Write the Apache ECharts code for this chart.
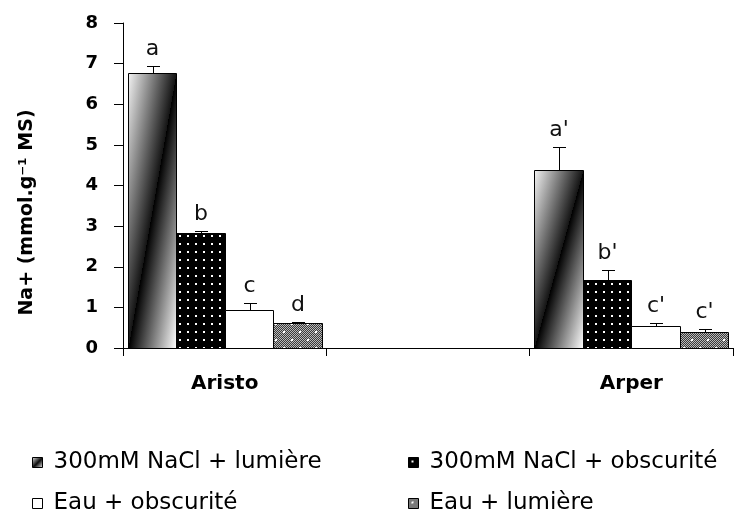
<!DOCTYPE html>
<html><head><meta charset="utf-8">
<script src="https://cdn.jsdelivr.net/npm/echarts@6/dist/echarts.min.js"></script>
<style>html,body{margin:0;padding:0;background:#fff}#c{width:738px;height:514px}</style>
</head><body><div id="c"></div>
<script>
// ---- data ----
const categories = ['Aristo', '', 'Arper'];
const seriesNames = ['300mM NaCl + lumière', '300mM NaCl + obscurité', 'Eau + obscurité', 'Eau + lumière'];
const naclLumiere      = [6.78, null, 4.38];
const naclLumiereErr   = [0.15, null, 0.56];
const naclObscurite    = [2.82, null, 1.67];
const naclObscuriteErr = [0.06, null, 0.25];
const eauObscurite     = [0.93, null, 0.55];
const eauObscuriteErr  = [0.17, null, 0.06];
const eauLumiere       = [0.62, null, 0.40];
const eauLumiereErr    = [0.03, null, 0.08];
const lettersNaclLumiere   = ['a', null, "a'"];
const lettersNaclObscurite = ['b', null, "b'"];
const lettersEauObscurite  = ['c', null, "c'"];
const lettersEauLumiere    = ['d', null, "c'"];
const yMin = 0, yMax = 8, yStep = 1;

const values = [naclLumiere, naclObscurite, eauObscurite, eauLumiere];
const errors = [naclLumiereErr, naclObscuriteErr, eauObscuriteErr, eauLumiereErr];
const letters = [lettersNaclLumiere, lettersNaclObscurite, lettersEauObscurite, lettersEauLumiere];

// ---- fills ----
const gradStops = [
  {offset: 0, color: '#f2f2f2'},
  {offset: 0.5, color: '#141414'},
  {offset: 0.5, color: '#000000'},
  {offset: 1, color: '#ffffff'}
];
function diagFill(x, y, w, h) {
  const L2 = w * w + h * h;
  const gx = 2 * w * h * h / L2, gy = 2 * w * w * h / L2;
  return new echarts.graphic.LinearGradient(x, y, x + gx, y + gy, gradStops, true);
}
function makeDots() {
  const c = document.createElement('canvas'); c.width = 8; c.height = 8;
  const g = c.getContext('2d');
  g.fillStyle = '#000'; g.fillRect(0, 0, 8, 8);
  g.fillStyle = '#fff'; g.fillRect(3, 3, 2, 2);
  return c;
}
function makeChecker() {
  const c = document.createElement('canvas'); c.width = 16; c.height = 16;
  const g = c.getContext('2d');
  for (let i = 0; i < 16; i++) for (let j = 0; j < 16; j++) {
    g.fillStyle = ((i + j) % 2) ? '#3a3a3a' : '#b8b8b8';
    g.fillRect(i, j, 1, 1);
  }
  g.fillStyle = '#fff';
  g.fillRect(3, 3, 2, 2); g.fillRect(11, 11, 2, 2);
  return c;
}
const dotsPattern = {image: makeDots(), repeat: 'repeat'};
const checkerPattern = {image: makeChecker(), repeat: 'repeat'};
const fills = [null, dotsPattern, '#ffffff', checkerPattern];
const legendFills = [
  new echarts.graphic.LinearGradient(0, 0, 1, 1, gradStops),
  dotsPattern, '#ffffff', checkerPattern
];

const CAT_GAP = 0.045;
function makeRender(s) {
  return function (params, api) {
    const ci = api.value(0), v = api.value(1), e = api.value(2);
    const base = api.coord([ci, 0]);
    const top = api.coord([ci, v]);
    const et = api.coord([ci, v + e]);
    const band = api.size([1, 0])[0];
    const gw = band * (1 - CAT_GAP);
    const bw = gw / 4;
    const x = Math.round(base[0] - gw / 2 + s * bw) + 0.5;
    const x2 = Math.round(base[0] - gw / 2 + (s + 1) * bw) + 0.5;
    const yT = Math.round(top[1]) + 0.5;
    const yB = Math.round(base[1]) + 0.5;
    const yE = Math.round(et[1]) + 0.5;
    const cx = Math.round((x + x2) / 2) + 0.5;
    const fill = s === 0 ? diagFill(x, yT, x2 - x, yB - yT) : fills[s];
    const children = [
      {type: 'rect', shape: {x: x, y: yT, width: x2 - x, height: yB - yT},
       style: {fill: fill, stroke: '#000', lineWidth: 1}},
      {type: 'line', shape: {x1: cx, y1: yT, x2: cx, y2: yE}, style: {stroke: '#000', lineWidth: 1}},
      {type: 'line', shape: {x1: cx - 6.5, y1: yE, x2: cx + 6.5, y2: yE}, style: {stroke: '#000', lineWidth: 1}}
    ];
    const lt = letters[s][ci];
    if (lt) {
      children.push({type: 'text', style: {text: lt, x: (x + x2) / 2, y: yE - 6,
        align: 'center', verticalAlign: 'bottom', fill: '#111',
        fontSize: 22, fontFamily: 'DejaVu Sans'}});
    }
    return {type: 'group', children: children};
  };
}

const series = seriesNames.map((name, s) => ({
  type: 'custom',
  name: name,
  renderItem: makeRender(s),
  encode: {x: 0, y: [1, 2]},
  data: categories.map((c, i) => values[s][i] == null ? null : [i, values[s][i], errors[s][i]]).filter(Boolean),
  itemStyle: {color: legendFills[s], borderColor: '#000', borderWidth: 1},
  z: 2
}));

const legendPos = [[32, 451], [408, 451], [32, 492], [408, 492]];
const legends = seriesNames.map((name, s) => ({
  left: legendPos[s][0], top: legendPos[s][1], padding: 0,
  itemWidth: 10, itemHeight: 10, icon: 'rect', selectedMode: false,
  data: [{name: name, icon: 'rect', itemStyle: {color: legendFills[s], borderColor: '#000', borderWidth: 1}}],
  textStyle: {fontFamily: 'DejaVu Sans', fontSize: 23, color: '#000', padding: [0, 0, 0, 6]}
}));

const chart = echarts.init(document.getElementById('c'), null, {renderer: 'canvas'});
chart.setOption({
  animation: false,
  backgroundColor: '#fff',
  grid: {left: 123, right: 5, top: 23, bottom: 166, containLabel: false},
  legend: legends,
  xAxis: {
    type: 'category', data: categories,
    axisLine: {lineStyle: {color: '#000', width: 1}},
    axisTick: {show: true, length: 8, interval: 0, lineStyle: {color: '#000'}},
    axisLabel: {interval: 0, margin: 26, color: '#000', fontFamily: 'DejaVu Sans', fontWeight: 'bold', fontSize: 20},
    splitLine: {show: false}
  },
  yAxis: {
    type: 'value', min: yMin, max: yMax, interval: yStep,
    name: 'Na+ (mmol.g⁻¹ MS)', nameLocation: 'middle', nameRotate: 90, nameGap: 86,
    nameTextStyle: {fontFamily: 'DejaVu Sans', fontWeight: 'bold', fontSize: 19, color: '#000', padding: [0, 54, 0, 0]},
    axisLine: {show: true, lineStyle: {color: '#000', width: 1}},
    axisTick: {show: true, length: 9, lineStyle: {color: '#000'}},
    axisLabel: {margin: 25, color: '#000', fontFamily: 'DejaVu Sans', fontWeight: 'bold', fontSize: 18},
    splitLine: {show: false}
  },
  series: series
});
</script></body></html>
